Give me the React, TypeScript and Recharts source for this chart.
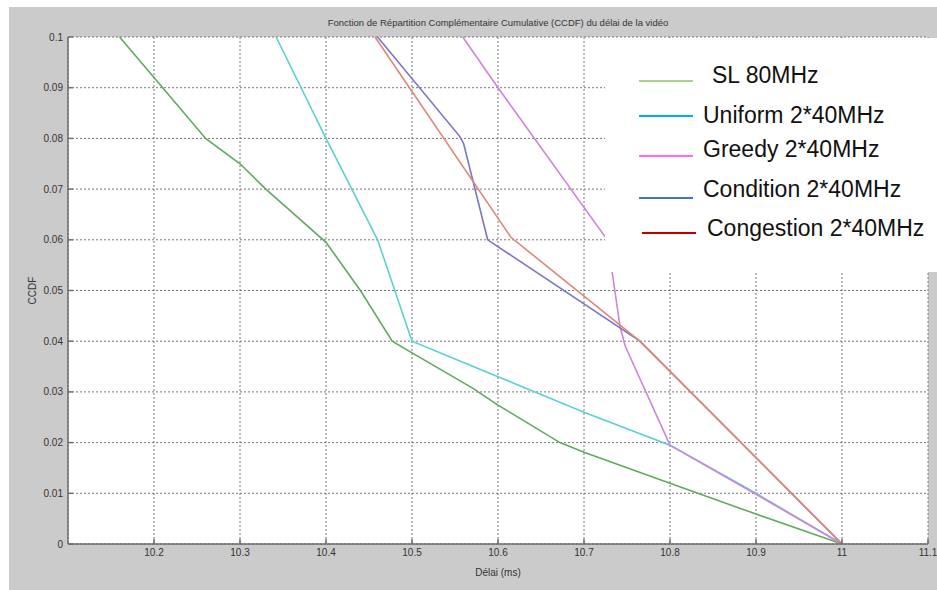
import { LineChart, Line, XAxis, YAxis, CartesianGrid, Legend } from 'recharts'

// Délai (ms) / CCDF pour chaque stratégie
const delaiSL = [10.16, 10.2, 10.26, 10.3, 10.33, 10.4, 10.44, 10.477, 10.5, 10.57, 10.6, 10.672, 10.7, 10.8, 10.9, 11]
const ccdfSL = [0.1, 0.092, 0.08, 0.075, 0.07, 0.0595, 0.05, 0.04, 0.0377, 0.0308, 0.0274, 0.02, 0.0181, 0.012, 0.0059, 0]

const delaiUniform = [10.342, 10.4, 10.46, 10.5, 10.6, 10.7, 10.8, 10.9, 11]
const ccdfUniform = [0.1, 0.08, 0.06, 0.04, 0.033, 0.026, 0.0195, 0.01, 0]

const delaiGreedy = [10.559, 10.6, 10.725, 10.729, 10.742, 10.748, 10.8, 10.9, 11]
const ccdfGreedy = [0.1, 0.09, 0.0605, 0.058, 0.0428, 0.039, 0.0195, 0.0098, 0]

const delaiCondition = [10.46, 10.555, 10.56, 10.588, 10.765, 11]
const ccdfCondition = [0.1, 0.0805, 0.079, 0.06, 0.04, 0]

const delaiCongestion = [10.457, 10.615, 10.765, 11]
const ccdfCongestion = [0.1, 0.0605, 0.04, 0]

const xTicks = [10.2, 10.3, 10.4, 10.5, 10.6, 10.7, 10.8, 10.9, 11, 11.1]
const yTicks = [0, 0.01, 0.02, 0.03, 0.04, 0.05, 0.06, 0.07, 0.08, 0.09, 0.1]

const titre = 'Fonction de Répartition Complémentaire Cumulative (CCDF) du délai de la vidéo'

const toPoints = (delai: number[], ccdf: number[]) =>
  delai.map((d, i) => ({ delai: d, ccdf: ccdf[i] }))

const series = [
  { name: 'SL 80MHz', data: toPoints(delaiSL, ccdfSL), stroke: '#62a862', legend: '#a9d18e' },
  { name: 'Uniform 2*40MHz', data: toPoints(delaiUniform, ccdfUniform), stroke: '#5ccfd2', legend: '#00b0f0' },
  { name: 'Greedy 2*40MHz', data: toPoints(delaiGreedy, ccdfGreedy), stroke: '#cc86dc', legend: '#ff66ff' },
  { name: 'Condition 2*40MHz', data: toPoints(delaiCondition, ccdfCondition), stroke: '#7676c8', legend: '#4472c4' },
  { name: 'Congestion 2*40MHz', data: toPoints(delaiCongestion, ccdfCongestion), stroke: '#dc8878', legend: '#c00000' },
]

// placement des entrées dans le cadre de la légende
const legendRows = [
  { lx: 34, ly: 43, tx: 107, ty: 37 },
  { lx: 34, ly: 78, tx: 98, ty: 77 },
  { lx: 34, ly: 118, tx: 98, ty: 111 },
  { lx: 34, ly: 160, tx: 98, ty: 151 },
  { lx: 37, ly: 195, tx: 102, ty: 190 },
]

function LegendBox() {
  return (
    <svg width={332} height={234} style={{ display: 'block' }}>
      {series.map((s, i) => {
        const r = legendRows[i]
        return (
          <g key={s.name}>
            <line x1={r.lx} x2={r.lx + 54} y1={r.ly} y2={r.ly} stroke={s.legend} strokeWidth={2} />
            <text x={r.tx} y={r.ty} dominantBaseline="central" fontSize={23} fill="#111"
              fontFamily="'Liberation Sans', Arial, sans-serif">
              {s.name}
            </text>
          </g>
        )
      })}
    </svg>
  )
}

const tickStyle = { fill: '#333', fontSize: 10, fontFamily: "'Liberation Sans', Arial, sans-serif" }
const axisColor = '#6e6e6e'

export default function App() {
  return (
    <div style={{ position: 'absolute', left: 0, top: 0, width: 937, height: 590, background: '#fff' }}>
      <div style={{ position: 'absolute', left: 9, top: 7, width: 928, height: 583, background: '#cbcbcb' }} />
      <div style={{
        position: 'absolute', left: 68, width: 860, top: 17, textAlign: 'center',
        fontSize: 9.5, color: '#333', fontFamily: "'Liberation Sans', Arial, sans-serif",
      }}>
        {titre}
      </div>
      <div style={{ position: 'absolute', left: 0, top: 0 }}>
        <LineChart width={937} height={590} margin={{ top: 37, right: 9, bottom: 16, left: 8 }}>
          <CartesianGrid fill="#fff" stroke="#777" strokeDasharray="2 2" />
          <XAxis
            dataKey="delai"
            type="number"
            domain={[10.1, 11.1]}
            ticks={xTicks}
            height={30}
            tick={tickStyle}
            tickSize={-5}
            tickMargin={10}
            stroke={axisColor}
            strokeWidth={1.5}
            label={{ value: 'Délai (ms)', position: 'insideBottom', offset: -2, style: tickStyle }}
          />
          <XAxis
            xAxisId="haut"
            orientation="top"
            type="number"
            domain={[10.1, 11.1]}
            ticks={xTicks}
            height={0}
            tick={false}
            tickSize={-5}
            stroke={axisColor}
            strokeWidth={1.5}
          />
          <YAxis
            type="number"
            domain={[0, 0.1]}
            ticks={yTicks}
            width={60}
            tick={tickStyle}
            tickSize={-5}
            tickMargin={10}
            stroke={axisColor}
            strokeWidth={1.5}
            label={{ value: 'CCDF', angle: -90, position: 'insideLeft', offset: 24, style: { ...tickStyle, textAnchor: 'middle' } }}
          />
          <YAxis
            yAxisId="droite"
            orientation="right"
            type="number"
            domain={[0, 0.1]}
            ticks={yTicks}
            width={0}
            tick={false}
            tickSize={-5}
            stroke={axisColor}
            strokeWidth={1.5}
          />
          {series.map((s) => (
            <Line
              key={s.name}
              data={s.data}
              dataKey="ccdf"
              name={s.name}
              type="linear"
              stroke={s.stroke}
              strokeWidth={1.6}
              dot={false}
              isAnimationActive={false}
            />
          ))}
          <Legend
            layout="vertical"
            align="center"
            verticalAlign="middle"
            content={() => <LegendBox />}
            wrapperStyle={{ position: 'absolute', left: 605, top: 38, width: 332, height: 234, background: '#fff' }}
          />
        </LineChart>
      </div>
    </div>
  )
}
